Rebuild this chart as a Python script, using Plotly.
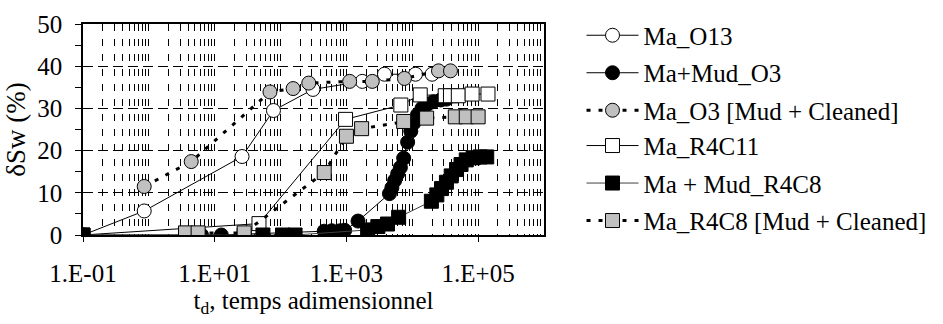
import plotly.graph_objects as go

# ---- data ----
o13_x = [0.1, 0.85, 26, 78, 310, 1740, 3780, 11200, 20000]
o13_y = [0, 5.7, 18.6, 29.5, 34.5, 36.4, 38.1, 38.1, 38.1]

mud_o3_x = [0.1, 6.3, 12.6, 460, 600, 800, 940, 1500, 4500, 4900, 5400, 6000, 6600,
            7400, 8500, 9500, 10500, 12000, 14000, 17000, 21000, 27000, 33000]
mud_o3_y = [0, 0, 0, 0.9, 1.0, 1.0, 1.1, 3.3, 9.8, 11.2, 12.9, 14.5, 16.0,
            18.2, 22.0, 24.6, 26.5, 28.5, 30.0, 31.0, 31.6, 32.0, 32.2]

o3c_x = [0.85, 4.4, 69, 155, 268, 1120, 2470, 7600, 25000, 38000]
o3c_y = [11.5, 17.4, 33.9, 34.7, 36.0, 36.4, 36.4, 37.1, 38.9, 38.9]

r4c11_x = [0.1, 47, 970, 6700, 13200, 31600, 38000, 50000, 81000, 141000]
r4c11_y = [0, 2.7, 27.4, 30.8, 33.2, 33.0, 33.0, 33.0, 33.4, 33.4]

mud_r4c8_x = [0.1, 28, 54, 107, 166, 2100, 3000, 4200, 6200, 19500, 23600, 27800,
              33000, 39000, 47000, 55000, 66000, 84000, 107000, 135000]
mud_r4c8_y = [0, 0, 0, 0, 0, 1.2, 2.0, 2.6, 4.2, 8.0, 9.5, 11.0,
              12.5, 14.0, 15.5, 16.7, 17.8, 18.3, 18.5, 18.5]

r4c8c_x = [3.6, 5.6, 28, 460, 1000, 1700, 7400, 16500, 45000, 66000, 100000]
r4c8c_y = [0.5, 0.5, 0.5, 14.8, 23.4, 25.2, 26.9, 27.7, 28.0, 28.0, 28.0]

names = ["Ma_O13", "Ma+Mud_O3", "Ma_O3 [Mud + Cleaned]", "Ma_R4C11",
         "Ma + Mud_R4C8", "Ma_R4C8 [Mud + Cleaned]"]

x_tickvals = [0.1, 10, 1000, 100000]
x_ticktext = ["1.E-01", "1.E+01", "1.E+03", "1.E+05"]

FONT = "Liberation Serif, Times New Roman, serif"
FS = 25
GRAY = "#C0C0C0"

fig = go.Figure()

def add(x, y, name, symbol, fill, dash, lw, legend, lcolor="black"):
    fig.add_trace(go.Scatter(
        x=x, y=y, name=name, mode="lines+markers", legendgroup=name,
        legend=legend,
        line=dict(color=lcolor, width=lw, dash=dash),
        marker=dict(symbol=symbol, size=14, color=fill,
                    line=dict(color="black", width=1)),
    ))

add(o13_x, o13_y, names[0], "circle", "white", "solid", 1, "legend")
add(mud_o3_x, mud_o3_y, names[1], "circle", "black", "solid", 1, "legend")
add(o3c_x, o3c_y, names[2], "circle", GRAY, "4px,8px", 3, "legend")
add(r4c11_x, r4c11_y, names[3], "square", "white", "solid", 1, "legend2")
add(mud_r4c8_x, mud_r4c8_y, names[4], "square", "black", "solid", 1, "legend2", "#404040")
add(r4c8c_x, r4c8c_y, names[5], "square", GRAY, "4px,8px", 3, "legend2")

minor_vals = []
for e in range(-1, 6):
    for m in range(1, 10):
        minor_vals.append(m * 10.0 ** e)
minor_vals.append(1e6)

LX = (588 - 83) / 467
leg_common = dict(x=LX, xanchor="left", yanchor="top",
                  font=dict(family=FONT, size=FS, color="black"),
                  itemwidth=52, tracegroupgap=2, bgcolor="rgba(0,0,0,0)")

fig.update_layout(
    width=943, height=324,
    margin=dict(l=83, r=393, t=15, b=89),
    paper_bgcolor="white", plot_bgcolor="white",
    font=dict(family=FONT, size=FS, color="black"),
    showlegend=True,
    legend=dict(y=(235 - 3) / 220, **leg_common),
    legend2=dict(y=(235 - 118) / 220, **leg_common),
    xaxis=dict(
        type="log", range=[-1, 6],
        tickvals=x_tickvals, ticktext=x_ticktext,
        ticks="outside", ticklen=5, tickcolor="black",
        ticklabelstandoff=10,
        showgrid=False, zeroline=False,
        showline=True, linecolor="black", linewidth=1.5, mirror=True,
        tickfont=dict(family=FONT, size=FS),
        title=dict(text="t<sub>d</sub>, temps adimensionnel",
                   font=dict(family=FONT, size=FS), standoff=2),
        minor=dict(tickvals=minor_vals, showgrid=True, gridcolor="black",
                   gridwidth=1, griddash="7px,8px", ticks=""),
    ),
    yaxis=dict(
        range=[0, 50], dtick=10, tick0=0,
        ticks="outside", ticklen=6, tickcolor="black",
        showgrid=True, gridcolor="black", gridwidth=1, griddash="10px,5px",
        zeroline=False,
        showline=True, linecolor="black", linewidth=1.5, mirror=True,
        tickfont=dict(family=FONT, size=FS),
        ticklabelstandoff=8,
        title=dict(text="δSw (%)", font=dict(family=FONT, size=27), standoff=4),
        minor=dict(dtick=5, ticks="outside", ticklen=6, tickcolor="black",
                   showgrid=False),
    ),
)

fig.write_html("out.html")
